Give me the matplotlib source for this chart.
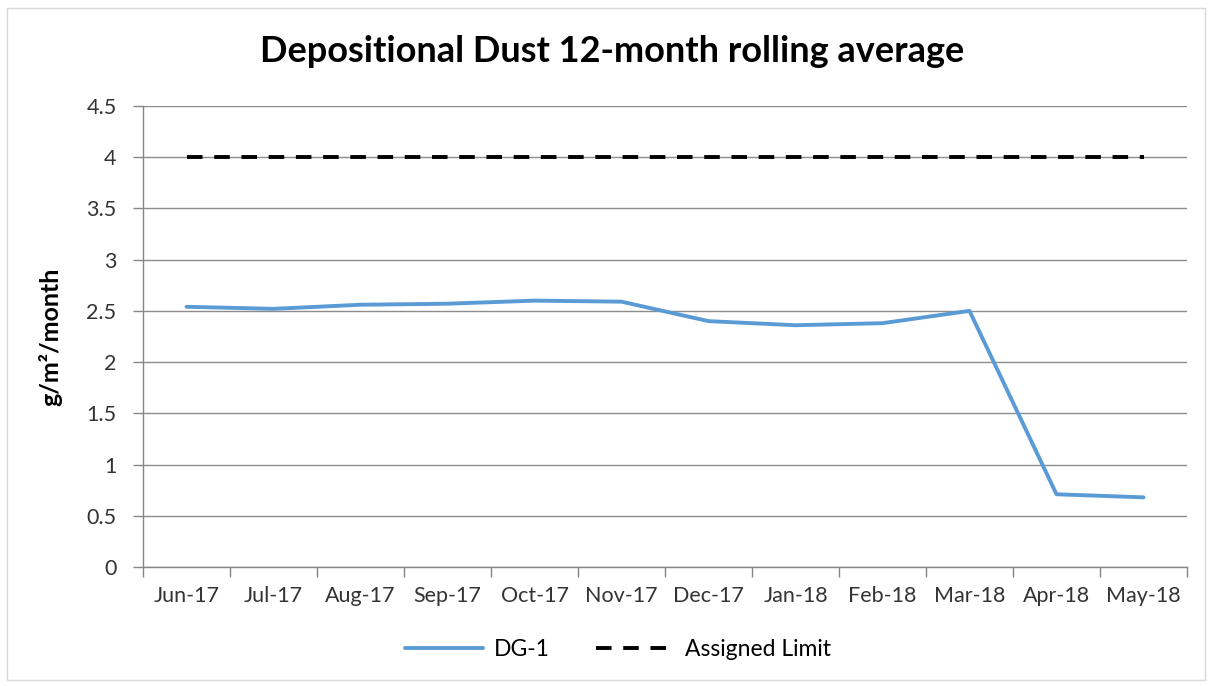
import numpy as np
import matplotlib
matplotlib.use("Agg")
import matplotlib.pyplot as plt
from matplotlib.patches import Rectangle

# chart data
months = ["Jun-17", "Jul-17", "Aug-17", "Sep-17", "Oct-17", "Nov-17",
          "Dec-17", "Jan-18", "Feb-18", "Mar-18", "Apr-18", "May-18"]
dg1 = [2.54, 2.52, 2.56, 2.57, 2.60, 2.59, 2.40, 2.36, 2.38, 2.50, 0.71, 0.68]
assigned_limit = [4, 4, 4, 4, 4, 4, 4, 4, 4, 4, 4, 4]
yticks = [0, 0.5, 1, 1.5, 2, 2.5, 3, 3.5, 4, 4.5]

plt.rcParams["font.family"] = ["Lato", "DejaVu Sans"]

W, H = 1213, 686
fig = plt.figure(figsize=(W / 100, H / 100), dpi=100)
ax = fig.add_axes([143 / W, 1 - 567 / H, (1187 - 143) / W, (567 - 106) / H])

# chart area border
fig.patches.append(Rectangle((7 / W, 6 / H), (1205 - 7) / W, (679 - 7) / H,
                             transform=fig.transFigure, fill=False,
                             edgecolor="#d9d9d9", linewidth=1))

x = np.arange(len(months))
ax.plot(x, dg1, color="#5b9bd5", linewidth=2.8, label="DG-1", zorder=3,
        solid_joinstyle="round", solid_capstyle="round")
ax.plot(x, assigned_limit, color="black", linewidth=2.8, label="Assigned Limit",
        dashes=(4, 3), zorder=3)

ax.set_xlim(-0.5, len(months) - 0.5)
ax.set_ylim(0, 4.5)
ax.set_yticks(yticks)
ax.set_yticklabels([f"{v:g}" for v in yticks])
ax.set_xticks(x)
ax.set_xticklabels(months)
ax.set_xticks(np.arange(-0.5, len(months), 1), minor=True)
ax.tick_params(axis="x", which="major", length=0, pad=14, labelsize=15.5, colors="#333333")
ax.tick_params(axis="x", which="minor", length=7, width=1, color="#868686", direction="out")
ax.tick_params(axis="y", which="major", length=7, width=1, color="#868686",
               direction="out", pad=12, labelsize=15.5, labelcolor="#333333")

ax.grid(axis="y", color="#8c8c8c", linewidth=1)
ax.set_axisbelow(True)
for s in ["top", "right"]:
    ax.spines[s].set_visible(False)
for s in ["left", "bottom"]:
    ax.spines[s].set_color("#868686")
    ax.spines[s].set_linewidth(1)

ax.set_ylabel("g/m²/month", fontsize=18, fontweight="bold")
ax.yaxis.set_label_coords((62 - 143) / (1187 - 143), 0.5)
fig.text(612 / W, 1 - 52 / H, "Depositional Dust 12-month rolling average",
         ha="center", va="center", fontsize=26, fontweight="bold")

fig.legend(loc="center", bbox_to_anchor=(618 / W, 1 - 650 / H), ncol=2,
           frameon=False, fontsize=16.5, handlelength=3.4, columnspacing=2.0,
           handletextpad=0.5)

fig.savefig("out.png", dpi=100)
